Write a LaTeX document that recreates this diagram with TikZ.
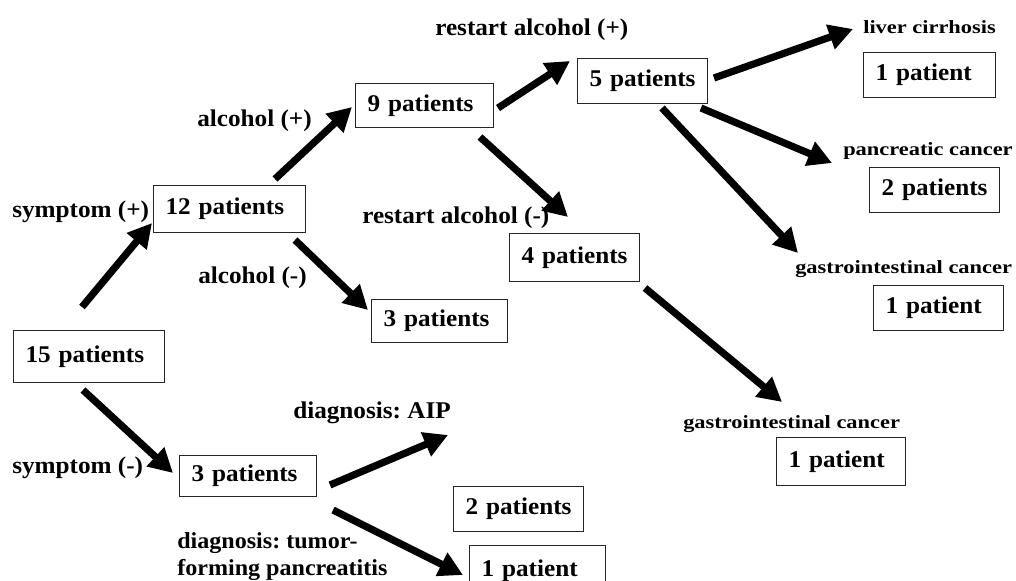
\documentclass[tikz,border=0pt]{standalone}
\usepackage{fontspec}
\setmainfont{Liberation Serif}
\newfontfamily\bigfam[FakeStretch=1.05]{Liberation Serif}
\newfontfamily\smfam[FakeStretch=1.2]{Liberation Serif}
\usetikzlibrary{arrows.meta}
\newdimen\pxu \pxu=0.75pt
\frenchspacing
\tikzset{
  pbox/.style={draw=black!85, line width=0.8pt, anchor=north west, inner xsep=0pt, inner ysep=0pt, align=left,
    font=\bigfam\bfseries\fontsize{18pt}{20pt}\selectfont},
  lab/.style={anchor=base west, inner sep=0pt, align=left, font=\bigfam\bfseries\fontsize{18pt}{20.25pt}\selectfont},
  slab/.style={anchor=base west, inner sep=0pt, font=\smfam\bfseries\fontsize{14pt}{17pt}\selectfont},
  arr/.style={line width=5.4pt, -{Triangle[length=18pt,width=18.5pt]}},
}
\newcommand{\padl}{\hspace*{12\pxu}}
\begin{document}
\begin{tikzpicture}[x=0.75pt,y=-0.75pt]
\useasboundingbox (0,0) rectangle (1016,581);
% boxes
\node[pbox, text width=151\pxu, minimum height=52\pxu] (n15) at (13,330) {\padl 15 patients};
\node[pbox, text width=152\pxu, minimum height=47\pxu] (n12) at (153,185) {\padl 12 patients};
\node[pbox, text width=138\pxu, minimum height=44\pxu] (n9) at (355,83) {\padl 9 patients};
\node[pbox, text width=130\pxu, minimum height=45\pxu] (n5) at (577,58) {\padl 5 patients};
\node[pbox, text width=132\pxu, minimum height=45\pxu] (nliv) at (863,52) {\padl 1 patient};
\node[pbox, text width=130\pxu, minimum height=45\pxu] (npan) at (869,167) {\padl 2 patients};
\node[pbox, text width=130\pxu, minimum height=45\pxu] (ngia) at (873,285) {\padl 1 patient};
\node[pbox, text width=130\pxu, minimum height=48\pxu] (n4) at (509,233) {\padl 4 patients};
\node[pbox, text width=129\pxu, minimum height=48\pxu] (ngib) at (776,437) {\padl 1 patient};
\node[pbox, text width=136\pxu, minimum height=43\pxu] (n3a) at (371,299) {\padl 3 patients};
\node[pbox, text width=137\pxu, minimum height=41\pxu] (n3s) at (179,455) {\padl 3 patients};
\node[pbox, text width=130\pxu, minimum height=45\pxu] (n2) at (453,486) {\padl 2 patients};
\node[pbox, text width=136\pxu, minimum height=50\pxu] (n1) at (469,545) {\padl 1 patient};
% labels
\node[lab] (lsp) at (12,217) {symptom (+)};
\node[lab] (lap) at (197,127) {alcohol (+)};
\node[lab] (lam) at (198,283) {alcohol (-)};
\node[lab] (lrp) at (435,36) {restart alcohol (+)};
\node[lab] (lrm) at (362,223) {restart alcohol (-)};
\node[slab] (lliv) at (863,34) {liver cirrhosis};
\node[slab] (lpan) at (843,156) {pancreatic cancer};
\node[slab] (lgia) at (795,273) {gastrointestinal cancer};
\node[slab] (lgib) at (683,428) {gastrointestinal cancer};
\node[lab] (laip) at (293,418) {diagnosis: AIP};
\node[lab] (lsm) at (12,473) {symptom (-)};
\node[lab, font=\bigfam\bfseries\fontsize{17.2pt}{20.25pt}\selectfont] (ltf) at (177,575) {diagnosis: tumor-\\forming pancreatitis};
% arrow ends
\coordinate (a1s) at (82,307);  \coordinate (a1e) at (152,223);
\coordinate (a2s) at (83,390);  \coordinate (a2e) at (173,473);
\coordinate (a3s) at (275,179); \coordinate (a3e) at (352,107);
\coordinate (a4s) at (295,240); \coordinate (a4e) at (368,310);
\coordinate (a5s) at (498,108); \coordinate (a5e) at (570,61);
\coordinate (a6s) at (480,137); \coordinate (a6e) at (568,217);
\coordinate (a7s) at (714,78);  \coordinate (a7e) at (853,29);
\coordinate (a8s) at (701,108); \coordinate (a8e) at (832,163);
\coordinate (a9s) at (662,108); \coordinate (a9e) at (798,253);
\coordinate (a10s) at (645,288); \coordinate (a10e) at (782,402);
\coordinate (a11s) at (330,485); \coordinate (a11e) at (448,435);
\coordinate (a12s) at (333,510); \coordinate (a12e) at (463,575);
\draw[arr] (a1s) -- (a1e);
\draw[arr] (a2s) -- (a2e);
\draw[arr] (a3s) -- (a3e);
\draw[arr] (a4s) -- (a4e);
\draw[arr] (a5s) -- (a5e);
\draw[arr] (a6s) -- (a6e);
\draw[arr] (a7s) -- (a7e);
\draw[arr] (a8s) -- (a8e);
\draw[arr] (a9s) -- (a9e);
\draw[arr] (a10s) -- (a10e);
\draw[arr] (a11s) -- (a11e);
\draw[arr] (a12s) -- (a12e);
\end{tikzpicture}
\end{document}
